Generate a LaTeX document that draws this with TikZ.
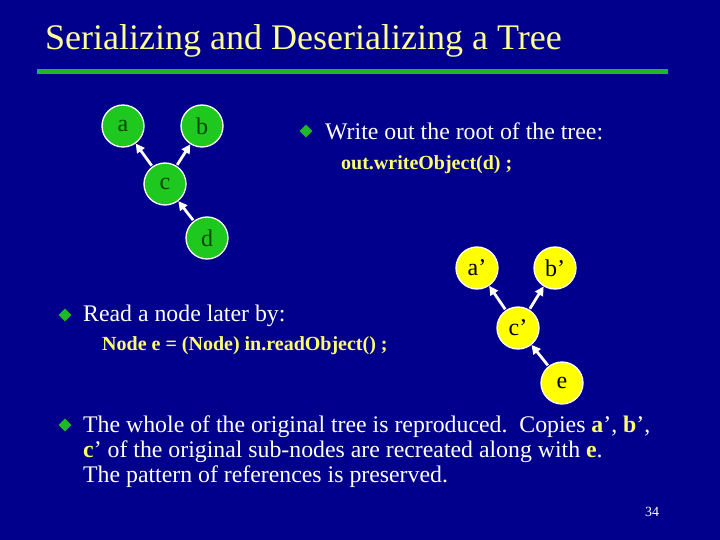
\documentclass[tikz,border=0pt]{standalone}
\usepackage{fontspec}
\setmainfont{Liberation Serif}
\usetikzlibrary{arrows.meta,shapes.geometric}
\definecolor{bg}{RGB}{0,0,140}
\definecolor{ttl}{RGB}{255,255,150}
\definecolor{codey}{RGB}{255,255,110}
\definecolor{tgreen}{RGB}{30,200,30}
\definecolor{lgreen}{RGB}{30,185,40}
\definecolor{nyellow}{RGB}{255,255,0}
\definecolor{gtxt}{RGB}{0,70,0}
\begin{document}
\begin{tikzpicture}[x=1pt,y=-1pt,
  treenode/.style={circle, draw=white, line width=1.3pt, minimum size=42pt, inner sep=0pt,
    font=\fontsize{24}{26}\selectfont},
  gnode/.style={treenode, fill=tgreen, text=gtxt},
  ynode/.style={treenode, fill=nyellow, text=black},
  arr/.style={draw=white, line width=2.8pt, -{Triangle[length=9pt,width=9pt]}, shorten <=1pt},
  bodytext/.style={anchor=base west, text=white, font=\fontsize{23.8}{25}\selectfont, inner sep=0pt},
  codetext/.style={anchor=base west, text=codey, font=\fontsize{20}{22}\selectfont\bfseries, inner sep=0pt},
  bulletmark/.style={diamond, fill=lgreen, inner sep=0pt, minimum width=13pt, minimum height=13pt}
]
\fill[bg] (0,0) rectangle (720,540);
\useasboundingbox (0,0) rectangle (720,540);

% title
\node[anchor=base west, text=ttl, font=\fontsize{36}{40}\selectfont, inner sep=0pt] (title) at (45,50) {Serializing and Deserializing a Tree};
\coordinate (ruleL) at (37,72);
\coordinate (ruleR) at (668,72);
\draw[lgreen, line width=5pt] (ruleL) -- (ruleR);

% original tree
\node[gnode] (a) at (123,126) {a};
\node[gnode] (b) at (202,126) {b};
\node[gnode] (c) at (165,184) {c};
\node[gnode] (d) at (207,238) {d};
\draw[arr] (c) -- (a);
\draw[arr] (c) -- (b);
\draw[arr] (d) -- (c);

% copied tree
\node[ynode] (a2) at (477,268) {a’};
\node[ynode] (b2) at (555,268) {b’};
\node[ynode] (c2) at (518,328) {c’};
\node[ynode] (e) at (562,383) {e};
\draw[arr] (c2) -- (a2);
\draw[arr] (c2) -- (b2);
\draw[arr] (e) -- (c2);

% bullet 1
\node[bulletmark] (m1) at (306,131) {};
\node[bodytext] (t1) at (325,140) {Write out the root of the tree:};
\node[codetext] (k1) at (341,170) {out.writeObject(d) ;};

% bullet 2
\node[bulletmark] (m2) at (65,315) {};
\node[bodytext] (t2) at (83,321) {Read a node later by:};
\node[codetext] (k2) at (102,350) {Node e = (Node) in.readObject() ;};

% bullet 3
\node[bulletmark] (m3) at (65,425) {};
\node[bodytext] (t3a) at (83,432) {The whole of the original tree is reproduced.\ \ Copies \textcolor{codey}{\bfseries a}’, \textcolor{codey}{\bfseries b}’,};
\node[bodytext] (t3b) at (83,457) {\textcolor{codey}{\bfseries c}’ of the original sub-nodes are recreated along with \textcolor{codey}{\bfseries e}.};
\node[bodytext] (t3c) at (83,482) {The pattern of references is preserved.};

% page number
\node[anchor=base west, text=white, font=\fontsize{14}{16}\selectfont, inner sep=0pt] (pg) at (645,516) {34};
\end{tikzpicture}
\end{document}
